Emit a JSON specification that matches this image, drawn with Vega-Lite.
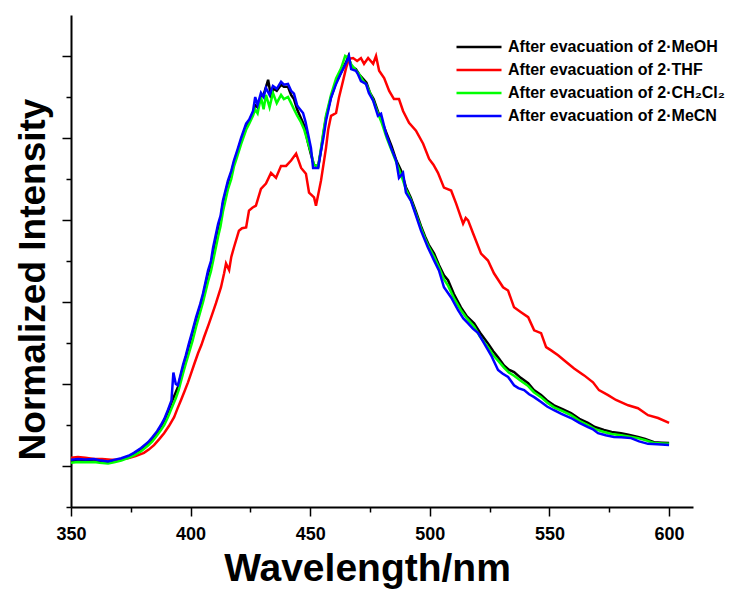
{
  "$schema": "https://vega.github.io/schema/vega-lite/v6.json",
  "width": 622,
  "height": 492,
  "autosize": {"type": "none"},
  "padding": {"left": 71, "top": 15, "right": 39, "bottom": 85},
  "background": "white",
  "config": {"view": {"stroke": null}, "font": "Liberation Sans"},
  "datasets": {
    "spectra": [
      {"s":"MeOH","x":350,"y":0.012},{"s":"MeOH","x":353,"y":0.014},{"s":"MeOH","x":356,"y":0.013},{"s":"MeOH","x":359.6,"y":0.014},{"s":"MeOH","x":362,"y":0.012},{"s":"MeOH","x":365.5,"y":0.01},{"s":"MeOH","x":368,"y":0.013},{"s":"MeOH","x":371,"y":0.017},{"s":"MeOH","x":374,"y":0.023},{"s":"MeOH","x":376.3,"y":0.03},{"s":"MeOH","x":379.3,"y":0.042},{"s":"MeOH","x":382.2,"y":0.056},{"s":"MeOH","x":384,"y":0.066},{"s":"MeOH","x":386,"y":0.082},{"s":"MeOH","x":387.6,"y":0.097},{"s":"MeOH","x":389,"y":0.112},{"s":"MeOH","x":390.6,"y":0.133},{"s":"MeOH","x":392,"y":0.155},{"s":"MeOH","x":393.8,"y":0.18},{"s":"MeOH","x":394.7,"y":0.193},{"s":"MeOH","x":396.8,"y":0.24},{"s":"MeOH","x":398,"y":0.265},{"s":"MeOH","x":399.3,"y":0.293},{"s":"MeOH","x":400.8,"y":0.325},{"s":"MeOH","x":402.3,"y":0.357},{"s":"MeOH","x":404,"y":0.39},{"s":"MeOH","x":405.2,"y":0.415},{"s":"MeOH","x":407.3,"y":0.47},{"s":"MeOH","x":408.5,"y":0.49},{"s":"MeOH","x":409.4,"y":0.52},{"s":"MeOH","x":411.5,"y":0.583},{"s":"MeOH","x":412.5,"y":0.6},{"s":"MeOH","x":413.5,"y":0.64},{"s":"MeOH","x":415.6,"y":0.69},{"s":"MeOH","x":417,"y":0.715},{"s":"MeOH","x":418.1,"y":0.74},{"s":"MeOH","x":419.5,"y":0.765},{"s":"MeOH","x":421.1,"y":0.795},{"s":"MeOH","x":423.2,"y":0.83},{"s":"MeOH","x":424.5,"y":0.84},{"s":"MeOH","x":426.1,"y":0.862},{"s":"MeOH","x":427,"y":0.88},{"s":"MeOH","x":428,"y":0.875},{"s":"MeOH","x":429.4,"y":0.9},{"s":"MeOH","x":430.5,"y":0.905},{"s":"MeOH","x":432.4,"y":0.942},{"s":"MeOH","x":433.5,"y":0.905},{"s":"MeOH","x":434.8,"y":0.92},{"s":"MeOH","x":436,"y":0.915},{"s":"MeOH","x":437.8,"y":0.93},{"s":"MeOH","x":439,"y":0.925},{"s":"MeOH","x":440.7,"y":0.925},{"s":"MeOH","x":442,"y":0.905},{"s":"MeOH","x":443.2,"y":0.895},{"s":"MeOH","x":444.5,"y":0.87},{"s":"MeOH","x":446,"y":0.85},{"s":"MeOH","x":447.5,"y":0.83},{"s":"MeOH","x":449,"y":0.79},{"s":"MeOH","x":450.3,"y":0.76},{"s":"MeOH","x":451.5,"y":0.735},{"s":"MeOH","x":453.3,"y":0.73},{"s":"MeOH","x":454.5,"y":0.77},{"s":"MeOH","x":455.5,"y":0.81},{"s":"MeOH","x":456.6,"y":0.85},{"s":"MeOH","x":458.7,"y":0.9},{"s":"MeOH","x":460.8,"y":0.935},{"s":"MeOH","x":462.9,"y":0.96},{"s":"MeOH","x":465,"y":0.985},{"s":"MeOH","x":466,"y":1.0},{"s":"MeOH","x":467.1,"y":0.975},{"s":"MeOH","x":469.1,"y":0.968},{"s":"MeOH","x":470.5,"y":0.955},{"s":"MeOH","x":472,"y":0.945},{"s":"MeOH","x":473.5,"y":0.935},{"s":"MeOH","x":475,"y":0.91},{"s":"MeOH","x":476.5,"y":0.895},{"s":"MeOH","x":478.3,"y":0.865},{"s":"MeOH","x":480,"y":0.84},{"s":"MeOH","x":482,"y":0.81},{"s":"MeOH","x":484,"y":0.78},{"s":"MeOH","x":486,"y":0.745},{"s":"MeOH","x":488,"y":0.72},{"s":"MeOH","x":490,"y":0.68},{"s":"MeOH","x":492,"y":0.655},{"s":"MeOH","x":494.2,"y":0.62},{"s":"MeOH","x":496.3,"y":0.585},{"s":"MeOH","x":498,"y":0.56},{"s":"MeOH","x":499.5,"y":0.54},{"s":"MeOH","x":501.8,"y":0.518},{"s":"MeOH","x":503.8,"y":0.49},{"s":"MeOH","x":505.9,"y":0.465},{"s":"MeOH","x":507.6,"y":0.453},{"s":"MeOH","x":510,"y":0.42},{"s":"MeOH","x":513,"y":0.387},{"s":"MeOH","x":515.5,"y":0.365},{"s":"MeOH","x":518.5,"y":0.348},{"s":"MeOH","x":521,"y":0.325},{"s":"MeOH","x":524.3,"y":0.299},{"s":"MeOH","x":526.5,"y":0.28},{"s":"MeOH","x":528.5,"y":0.265},{"s":"MeOH","x":531,"y":0.245},{"s":"MeOH","x":533,"y":0.235},{"s":"MeOH","x":535.2,"y":0.229},{"s":"MeOH","x":538,"y":0.215},{"s":"MeOH","x":541.1,"y":0.202},{"s":"MeOH","x":543.5,"y":0.185},{"s":"MeOH","x":546.5,"y":0.173},{"s":"MeOH","x":549,"y":0.16},{"s":"MeOH","x":551.9,"y":0.148},{"s":"MeOH","x":555,"y":0.14},{"s":"MeOH","x":559,"y":0.129},{"s":"MeOH","x":562.5,"y":0.115},{"s":"MeOH","x":566.1,"y":0.105},{"s":"MeOH","x":569,"y":0.095},{"s":"MeOH","x":572.8,"y":0.088},{"s":"MeOH","x":576,"y":0.083},{"s":"MeOH","x":579.9,"y":0.08},{"s":"MeOH","x":583,"y":0.076},{"s":"MeOH","x":587,"y":0.071},{"s":"MeOH","x":590,"y":0.066},{"s":"MeOH","x":593.7,"y":0.058},{"s":"MeOH","x":597,"y":0.057},{"s":"MeOH","x":600,"y":0.056},

      {"s":"THF","x":350,"y":0.02},{"s":"THF","x":352.9,"y":0.022},{"s":"THF","x":356,"y":0.02},{"s":"THF","x":359.6,"y":0.017},{"s":"THF","x":363,"y":0.017},{"s":"THF","x":366.7,"y":0.015},{"s":"THF","x":370,"y":0.016},{"s":"THF","x":373.8,"y":0.019},{"s":"THF","x":377,"y":0.024},{"s":"THF","x":380.5,"y":0.032},{"s":"THF","x":382.5,"y":0.04},{"s":"THF","x":384.7,"y":0.051},{"s":"THF","x":386.8,"y":0.065},{"s":"THF","x":388.9,"y":0.08},{"s":"THF","x":391,"y":0.098},{"s":"THF","x":393.1,"y":0.119},{"s":"THF","x":394.5,"y":0.14},{"s":"THF","x":396,"y":0.161},{"s":"THF","x":397.5,"y":0.183},{"s":"THF","x":398.9,"y":0.204},{"s":"THF","x":400.2,"y":0.226},{"s":"THF","x":401.6,"y":0.25},{"s":"THF","x":403.1,"y":0.275},{"s":"THF","x":404.5,"y":0.295},{"s":"THF","x":405.6,"y":0.314},{"s":"THF","x":407.7,"y":0.348},{"s":"THF","x":409,"y":0.37},{"s":"THF","x":410.6,"y":0.397},{"s":"THF","x":412.7,"y":0.436},{"s":"THF","x":414,"y":0.47},{"s":"THF","x":414.8,"y":0.494},{"s":"THF","x":416.1,"y":0.478},{"s":"THF","x":417,"y":0.51},{"s":"THF","x":418.1,"y":0.533},{"s":"THF","x":420.2,"y":0.574},{"s":"THF","x":421.5,"y":0.58},{"s":"THF","x":423.2,"y":0.582},{"s":"THF","x":424.4,"y":0.623},{"s":"THF","x":425.8,"y":0.63},{"s":"THF","x":427.3,"y":0.635},{"s":"THF","x":429.4,"y":0.676},{"s":"THF","x":431.5,"y":0.689},{"s":"THF","x":433.6,"y":0.715},{"s":"THF","x":435.7,"y":0.703},{"s":"THF","x":437.8,"y":0.732},{"s":"THF","x":439.9,"y":0.732},{"s":"THF","x":442,"y":0.745},{"s":"THF","x":444.1,"y":0.762},{"s":"THF","x":446.2,"y":0.727},{"s":"THF","x":448.2,"y":0.713},{"s":"THF","x":449.5,"y":0.667},{"s":"THF","x":451.6,"y":0.655},{"s":"THF","x":452.4,"y":0.635},{"s":"THF","x":454.5,"y":0.696},{"s":"THF","x":456.6,"y":0.776},{"s":"THF","x":457.5,"y":0.82},{"s":"THF","x":458.7,"y":0.854},{"s":"THF","x":460.8,"y":0.861},{"s":"THF","x":462,"y":0.898},{"s":"THF","x":463.7,"y":0.939},{"s":"THF","x":465,"y":0.971},{"s":"THF","x":466.2,"y":0.993},{"s":"THF","x":467.9,"y":0.995},{"s":"THF","x":469.6,"y":0.988},{"s":"THF","x":471.2,"y":0.995},{"s":"THF","x":472.5,"y":0.981},{"s":"THF","x":474.2,"y":0.995},{"s":"THF","x":476.3,"y":0.981},{"s":"THF","x":477.5,"y":1.0},{"s":"THF","x":478.8,"y":0.964},{"s":"THF","x":480.9,"y":0.946},{"s":"THF","x":483,"y":0.915},{"s":"THF","x":485,"y":0.895},{"s":"THF","x":487.1,"y":0.895},{"s":"THF","x":488.8,"y":0.866},{"s":"THF","x":491.3,"y":0.837},{"s":"THF","x":494.2,"y":0.818},{"s":"THF","x":497.2,"y":0.786},{"s":"THF","x":499.7,"y":0.749},{"s":"THF","x":501.5,"y":0.735},{"s":"THF","x":503.4,"y":0.715},{"s":"THF","x":505.9,"y":0.679},{"s":"THF","x":508.9,"y":0.672},{"s":"THF","x":511,"y":0.64},{"s":"THF","x":513.9,"y":0.591},{"s":"THF","x":515,"y":0.605},{"s":"THF","x":516,"y":0.599},{"s":"THF","x":518.1,"y":0.567},{"s":"THF","x":521.4,"y":0.518},{"s":"THF","x":524.3,"y":0.501},{"s":"THF","x":526.8,"y":0.47},{"s":"THF","x":530.6,"y":0.436},{"s":"THF","x":532.7,"y":0.428},{"s":"THF","x":535.2,"y":0.387},{"s":"THF","x":538.1,"y":0.375},{"s":"THF","x":541.1,"y":0.363},{"s":"THF","x":543.6,"y":0.331},{"s":"THF","x":546.5,"y":0.324},{"s":"THF","x":548.6,"y":0.29},{"s":"THF","x":550.7,"y":0.282},{"s":"THF","x":553.6,"y":0.27},{"s":"THF","x":556.1,"y":0.258},{"s":"THF","x":560.3,"y":0.238},{"s":"THF","x":564.5,"y":0.221},{"s":"THF","x":568.2,"y":0.204},{"s":"THF","x":570.7,"y":0.185},{"s":"THF","x":574.5,"y":0.173},{"s":"THF","x":577.8,"y":0.161},{"s":"THF","x":582.9,"y":0.148},{"s":"THF","x":587,"y":0.141},{"s":"THF","x":591.2,"y":0.124},{"s":"THF","x":595.4,"y":0.117},{"s":"THF","x":600,"y":0.105},

      {"s":"CH2Cl2","x":350,"y":0.008},{"s":"CH2Cl2","x":353,"y":0.01},{"s":"CH2Cl2","x":356,"y":0.009},{"s":"CH2Cl2","x":359.6,"y":0.01},{"s":"CH2Cl2","x":362,"y":0.008},{"s":"CH2Cl2","x":365.5,"y":0.006},{"s":"CH2Cl2","x":368,"y":0.009},{"s":"CH2Cl2","x":371,"y":0.013},{"s":"CH2Cl2","x":374,"y":0.02},{"s":"CH2Cl2","x":376.3,"y":0.026},{"s":"CH2Cl2","x":379.3,"y":0.036},{"s":"CH2Cl2","x":382.2,"y":0.05},{"s":"CH2Cl2","x":384,"y":0.06},{"s":"CH2Cl2","x":386,"y":0.075},{"s":"CH2Cl2","x":387.6,"y":0.088},{"s":"CH2Cl2","x":389,"y":0.1},{"s":"CH2Cl2","x":390.6,"y":0.12},{"s":"CH2Cl2","x":392,"y":0.14},{"s":"CH2Cl2","x":393.8,"y":0.165},{"s":"CH2Cl2","x":395,"y":0.185},{"s":"CH2Cl2","x":396.8,"y":0.225},{"s":"CH2Cl2","x":398,"y":0.25},{"s":"CH2Cl2","x":399.3,"y":0.275},{"s":"CH2Cl2","x":400.8,"y":0.305},{"s":"CH2Cl2","x":402.3,"y":0.34},{"s":"CH2Cl2","x":404,"y":0.375},{"s":"CH2Cl2","x":405.2,"y":0.4},{"s":"CH2Cl2","x":407.3,"y":0.45},{"s":"CH2Cl2","x":408.5,"y":0.475},{"s":"CH2Cl2","x":409.4,"y":0.5},{"s":"CH2Cl2","x":411.5,"y":0.56},{"s":"CH2Cl2","x":412.5,"y":0.585},{"s":"CH2Cl2","x":413.5,"y":0.62},{"s":"CH2Cl2","x":415.6,"y":0.675},{"s":"CH2Cl2","x":417,"y":0.7},{"s":"CH2Cl2","x":418.1,"y":0.73},{"s":"CH2Cl2","x":419.5,"y":0.755},{"s":"CH2Cl2","x":421.1,"y":0.785},{"s":"CH2Cl2","x":423.2,"y":0.82},{"s":"CH2Cl2","x":424.5,"y":0.835},{"s":"CH2Cl2","x":426.1,"y":0.855},{"s":"CH2Cl2","x":427,"y":0.87},{"s":"CH2Cl2","x":428,"y":0.86},{"s":"CH2Cl2","x":429.4,"y":0.9},{"s":"CH2Cl2","x":430.5,"y":0.87},{"s":"CH2Cl2","x":431.5,"y":0.905},{"s":"CH2Cl2","x":433,"y":0.875},{"s":"CH2Cl2","x":434.4,"y":0.91},{"s":"CH2Cl2","x":436,"y":0.885},{"s":"CH2Cl2","x":437.8,"y":0.905},{"s":"CH2Cl2","x":439,"y":0.895},{"s":"CH2Cl2","x":440.7,"y":0.9},{"s":"CH2Cl2","x":442,"y":0.885},{"s":"CH2Cl2","x":443.2,"y":0.87},{"s":"CH2Cl2","x":444.5,"y":0.855},{"s":"CH2Cl2","x":446,"y":0.84},{"s":"CH2Cl2","x":447.5,"y":0.82},{"s":"CH2Cl2","x":449,"y":0.79},{"s":"CH2Cl2","x":450.3,"y":0.765},{"s":"CH2Cl2","x":451.5,"y":0.735},{"s":"CH2Cl2","x":453.3,"y":0.73},{"s":"CH2Cl2","x":454.5,"y":0.775},{"s":"CH2Cl2","x":455.5,"y":0.815},{"s":"CH2Cl2","x":456.6,"y":0.855},{"s":"CH2Cl2","x":458.7,"y":0.905},{"s":"CH2Cl2","x":460.8,"y":0.945},{"s":"CH2Cl2","x":462.9,"y":0.97},{"s":"CH2Cl2","x":464.6,"y":1.0},{"s":"CH2Cl2","x":466,"y":0.995},{"s":"CH2Cl2","x":467.1,"y":0.98},{"s":"CH2Cl2","x":469.1,"y":0.965},{"s":"CH2Cl2","x":470.5,"y":0.955},{"s":"CH2Cl2","x":472,"y":0.94},{"s":"CH2Cl2","x":473.5,"y":0.93},{"s":"CH2Cl2","x":475,"y":0.91},{"s":"CH2Cl2","x":476.5,"y":0.89},{"s":"CH2Cl2","x":478.3,"y":0.86},{"s":"CH2Cl2","x":480,"y":0.835},{"s":"CH2Cl2","x":482,"y":0.8},{"s":"CH2Cl2","x":484,"y":0.77},{"s":"CH2Cl2","x":486,"y":0.74},{"s":"CH2Cl2","x":488,"y":0.71},{"s":"CH2Cl2","x":490,"y":0.675},{"s":"CH2Cl2","x":492,"y":0.65},{"s":"CH2Cl2","x":494.2,"y":0.615},{"s":"CH2Cl2","x":496.3,"y":0.58},{"s":"CH2Cl2","x":498,"y":0.555},{"s":"CH2Cl2","x":499.5,"y":0.535},{"s":"CH2Cl2","x":501.8,"y":0.51},{"s":"CH2Cl2","x":503.8,"y":0.485},{"s":"CH2Cl2","x":505.9,"y":0.455},{"s":"CH2Cl2","x":507.6,"y":0.44},{"s":"CH2Cl2","x":510,"y":0.41},{"s":"CH2Cl2","x":513,"y":0.38},{"s":"CH2Cl2","x":515.5,"y":0.36},{"s":"CH2Cl2","x":518.5,"y":0.34},{"s":"CH2Cl2","x":521,"y":0.315},{"s":"CH2Cl2","x":524.3,"y":0.29},{"s":"CH2Cl2","x":526.5,"y":0.27},{"s":"CH2Cl2","x":528.5,"y":0.257},{"s":"CH2Cl2","x":531,"y":0.24},{"s":"CH2Cl2","x":533,"y":0.228},{"s":"CH2Cl2","x":535.2,"y":0.22},{"s":"CH2Cl2","x":538,"y":0.208},{"s":"CH2Cl2","x":541.1,"y":0.195},{"s":"CH2Cl2","x":543.5,"y":0.18},{"s":"CH2Cl2","x":546.5,"y":0.168},{"s":"CH2Cl2","x":549,"y":0.155},{"s":"CH2Cl2","x":551.9,"y":0.143},{"s":"CH2Cl2","x":555,"y":0.135},{"s":"CH2Cl2","x":559,"y":0.124},{"s":"CH2Cl2","x":562.5,"y":0.11},{"s":"CH2Cl2","x":566.1,"y":0.1},{"s":"CH2Cl2","x":569,"y":0.09},{"s":"CH2Cl2","x":572.8,"y":0.083},{"s":"CH2Cl2","x":576,"y":0.078},{"s":"CH2Cl2","x":579.9,"y":0.075},{"s":"CH2Cl2","x":583,"y":0.072},{"s":"CH2Cl2","x":587,"y":0.068},{"s":"CH2Cl2","x":590,"y":0.063},{"s":"CH2Cl2","x":593.7,"y":0.056},{"s":"CH2Cl2","x":597,"y":0.055},{"s":"CH2Cl2","x":600,"y":0.054},

      {"s":"MeCN","x":350,"y":0.015},{"s":"MeCN","x":353,"y":0.017},{"s":"MeCN","x":356,"y":0.016},{"s":"MeCN","x":359.6,"y":0.017},{"s":"MeCN","x":362,"y":0.014},{"s":"MeCN","x":365.5,"y":0.011},{"s":"MeCN","x":368,"y":0.015},{"s":"MeCN","x":371,"y":0.019},{"s":"MeCN","x":374,"y":0.025},{"s":"MeCN","x":376.3,"y":0.032},{"s":"MeCN","x":379.3,"y":0.044},{"s":"MeCN","x":382.2,"y":0.058},{"s":"MeCN","x":384,"y":0.07},{"s":"MeCN","x":386,"y":0.085},{"s":"MeCN","x":387.6,"y":0.1},{"s":"MeCN","x":389,"y":0.115},{"s":"MeCN","x":390.6,"y":0.138},{"s":"MeCN","x":392,"y":0.16},{"s":"MeCN","x":392.8,"y":0.228},{"s":"MeCN","x":393.8,"y":0.2},{"s":"MeCN","x":394.7,"y":0.197},{"s":"MeCN","x":396.8,"y":0.246},{"s":"MeCN","x":398,"y":0.27},{"s":"MeCN","x":399.3,"y":0.299},{"s":"MeCN","x":400.8,"y":0.33},{"s":"MeCN","x":402.3,"y":0.363},{"s":"MeCN","x":404,"y":0.395},{"s":"MeCN","x":405.2,"y":0.421},{"s":"MeCN","x":407.3,"y":0.477},{"s":"MeCN","x":408.5,"y":0.5},{"s":"MeCN","x":409.4,"y":0.533},{"s":"MeCN","x":411.5,"y":0.591},{"s":"MeCN","x":412.5,"y":0.61},{"s":"MeCN","x":413.5,"y":0.647},{"s":"MeCN","x":415.6,"y":0.696},{"s":"MeCN","x":417,"y":0.72},{"s":"MeCN","x":418.1,"y":0.745},{"s":"MeCN","x":419.5,"y":0.77},{"s":"MeCN","x":421.1,"y":0.8},{"s":"MeCN","x":423.2,"y":0.835},{"s":"MeCN","x":424.5,"y":0.845},{"s":"MeCN","x":426.1,"y":0.866},{"s":"MeCN","x":427,"y":0.9},{"s":"MeCN","x":428,"y":0.88},{"s":"MeCN","x":429.4,"y":0.91},{"s":"MeCN","x":430.5,"y":0.9},{"s":"MeCN","x":431.5,"y":0.922},{"s":"MeCN","x":433,"y":0.905},{"s":"MeCN","x":434.4,"y":0.927},{"s":"MeCN","x":436,"y":0.92},{"s":"MeCN","x":437.8,"y":0.937},{"s":"MeCN","x":439,"y":0.93},{"s":"MeCN","x":440.7,"y":0.932},{"s":"MeCN","x":442,"y":0.915},{"s":"MeCN","x":443.2,"y":0.908},{"s":"MeCN","x":444.5,"y":0.88},{"s":"MeCN","x":445.3,"y":0.873},{"s":"MeCN","x":447,"y":0.861},{"s":"MeCN","x":448,"y":0.84},{"s":"MeCN","x":449.1,"y":0.81},{"s":"MeCN","x":450.3,"y":0.776},{"s":"MeCN","x":451.2,"y":0.727},{"s":"MeCN","x":453.3,"y":0.727},{"s":"MeCN","x":454.5,"y":0.769},{"s":"MeCN","x":455.5,"y":0.8},{"s":"MeCN","x":456.6,"y":0.842},{"s":"MeCN","x":458.7,"y":0.898},{"s":"MeCN","x":460.8,"y":0.932},{"s":"MeCN","x":462.9,"y":0.959},{"s":"MeCN","x":465,"y":0.983},{"s":"MeCN","x":466.2,"y":1.0},{"s":"MeCN","x":467.1,"y":0.968},{"s":"MeCN","x":469.1,"y":0.964},{"s":"MeCN","x":470,"y":0.955},{"s":"MeCN","x":471.2,"y":0.939},{"s":"MeCN","x":473.3,"y":0.932},{"s":"MeCN","x":474.5,"y":0.91},{"s":"MeCN","x":476.3,"y":0.891},{"s":"MeCN","x":478.3,"y":0.854},{"s":"MeCN","x":479.6,"y":0.859},{"s":"MeCN","x":481.7,"y":0.81},{"s":"MeCN","x":483.8,"y":0.776},{"s":"MeCN","x":485.9,"y":0.745},{"s":"MeCN","x":487.1,"y":0.703},{"s":"MeCN","x":488.8,"y":0.715},{"s":"MeCN","x":490,"y":0.667},{"s":"MeCN","x":492.1,"y":0.647},{"s":"MeCN","x":494.2,"y":0.611},{"s":"MeCN","x":496.3,"y":0.574},{"s":"MeCN","x":499.2,"y":0.533},{"s":"MeCN","x":501.8,"y":0.501},{"s":"MeCN","x":503.8,"y":0.477},{"s":"MeCN","x":505.9,"y":0.436},{"s":"MeCN","x":508.9,"y":0.411},{"s":"MeCN","x":511.8,"y":0.38},{"s":"MeCN","x":514,"y":0.36},{"s":"MeCN","x":516,"y":0.348},{"s":"MeCN","x":518,"y":0.335},{"s":"MeCN","x":520.2,"y":0.324},{"s":"MeCN","x":522.7,"y":0.299},{"s":"MeCN","x":525.6,"y":0.27},{"s":"MeCN","x":528.5,"y":0.234},{"s":"MeCN","x":530.5,"y":0.225},{"s":"MeCN","x":532.7,"y":0.217},{"s":"MeCN","x":535.2,"y":0.197},{"s":"MeCN","x":537,"y":0.19},{"s":"MeCN","x":539.4,"y":0.185},{"s":"MeCN","x":541.5,"y":0.175},{"s":"MeCN","x":543.6,"y":0.168},{"s":"MeCN","x":546.5,"y":0.156},{"s":"MeCN","x":549,"y":0.145},{"s":"MeCN","x":551.9,"y":0.136},{"s":"MeCN","x":555,"y":0.127},{"s":"MeCN","x":559,"y":0.117},{"s":"MeCN","x":562.5,"y":0.105},{"s":"MeCN","x":566.1,"y":0.095},{"s":"MeCN","x":568,"y":0.09},{"s":"MeCN","x":570.3,"y":0.08},{"s":"MeCN","x":573.5,"y":0.075},{"s":"MeCN","x":577,"y":0.071},{"s":"MeCN","x":580,"y":0.07},{"s":"MeCN","x":584.1,"y":0.068},{"s":"MeCN","x":587.5,"y":0.06},{"s":"MeCN","x":591.2,"y":0.054},{"s":"MeCN","x":595,"y":0.053},{"s":"MeCN","x":600,"y":0.051}
    ]
  },
  "data": {"name": "spectra"},
  "mark": {"type": "line", "strokeWidth": 2.5, "interpolate": "linear", "clip": false},
  "encoding": {
    "x": {
      "field": "x", "type": "quantitative",
      "scale": {"domain": [350, 610], "nice": false, "zero": false},
      "axis": {
        "title": "Wavelength/nm",
        "values": [350, 375, 400, 425, 450, 475, 500, 525, 550, 575, 600],
        "labelExpr": "datum.value % 50 === 0 ? datum.label : ''",
        "tickSize": {"condition": {"test": "datum.value % 50 === 0", "value": 9}, "value": 5},
        "labelPadding": 9,
        "labelFont": "Liberation Sans", "labelFontWeight": "bold", "labelFontSize": 18, "labelColor": "black",
        "labelFlush": false, "labelOverlap": false,
        "domainColor": "black", "domainWidth": 2, "tickColor": "black", "tickWidth": 1.5,
        "grid": false,
        "titleFont": "Liberation Sans", "titleFontSize": 39, "titleFontWeight": "bold", "titleColor": "black",
        "titleX": 296, "titleY": 73, "titleBaseline": "alphabetic", "titleAlign": "center"
      }
    },
    "y": {
      "field": "y", "type": "quantitative",
      "scale": {"domain": [-0.1, 1.1], "nice": false, "zero": false},
      "axis": {
        "title": "Normalized Intensity",
        "values": [-0.1, 0, 0.1, 0.2, 0.3, 0.4, 0.5, 0.6, 0.7, 0.8, 0.9, 1.0],
        "labels": false,
        "tickSize": {"condition": {"test": "indexof([0, 0.2, 0.4, 0.6, 0.8, 1], datum.value) >= 0", "value": 9}, "value": 5},
        "domainColor": "black", "domainWidth": 2, "tickColor": "black", "tickWidth": 1.5,
        "grid": false,
        "titleFont": "Liberation Sans", "titleFontSize": 37, "titleFontWeight": "bold", "titleColor": "black",
        "titleX": -27, "titleY": 264, "titleBaseline": "alphabetic", "titleAlign": "center", "titleAngle": 270
      }
    },
    "color": {
      "field": "s", "type": "nominal",
      "scale": {"domain": ["MeOH", "THF", "CH2Cl2", "MeCN"], "range": ["#000000", "#ff0000", "#00ff00", "#0000ff"]},
      "legend": {
        "orient": "none", "legendX": 399, "legendY": 23, "title": null,
        "symbolType": "M-3,0H3", "symbolSize": 225, "symbolStrokeWidth": 2.5,
        "labelFont": "Liberation Sans", "labelFontSize": 16, "labelFontWeight": "bold", "labelColor": "black",
        "labelOffset": 20, "labelLimit": 400, "rowPadding": 6,
        "labelExpr": "datum.label === 'MeOH' ? 'After evacuation of 2·MeOH' : datum.label === 'THF' ? 'After evacuation of 2·THF' : datum.label === 'CH2Cl2' ? 'After evacuation of 2·CH₂Cl₂' : 'After evacuation of 2·MeCN'"
      }
    }
  }
}
